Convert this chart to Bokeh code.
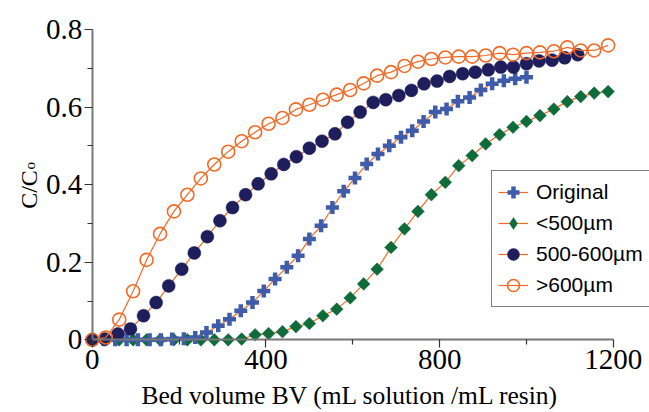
import math
from bokeh.plotting import figure
from bokeh.models import (Range1d, FixedTicker, Label, Legend, LegendItem,
                          ColumnDataSource, CDSView, IndexFilter)
from bokeh.embed import file_html
from bokeh.resources import INLINE

# ---------------- data ----------------
x_ticks = [0, 400, 800, 1200]
x_minor = [200, 600, 1000]
y_ticks = [0, 0.2, 0.4, 0.6, 0.8]
y_minor = [0.1, 0.3, 0.5, 0.7]
y_tick_labels = ["0", "0.2", "0.4", "0.6", "0.8"]

series_names = ["Original", "<500\u00b5m", "500-600\u00b5m", ">600\u00b5m"]

orig_bv = [0, 26, 53, 79, 105, 132, 158, 184, 211, 237, 263, 290, 316, 342, 369, 395,
           421, 448, 474, 500, 527, 553, 579, 605, 632, 658, 684, 711, 737, 763, 790,
           816, 842, 869, 895, 921, 948, 974, 1000]
orig_c = [0, 0, 0, 0, 0, 0, 0, 0.002, 0.003, 0.006, 0.019, 0.036, 0.053, 0.075, 0.096,
          0.126, 0.157, 0.187, 0.217, 0.260, 0.294, 0.341, 0.383, 0.417, 0.453, 0.479,
          0.500, 0.522, 0.539, 0.563, 0.587, 0.595, 0.615, 0.625, 0.644, 0.660, 0.668,
          0.673, 0.677]

lt500_bv = [0, 31, 62, 94, 125, 156, 188, 219, 250, 281, 313, 344, 375, 406, 438, 469,
            500, 531, 563, 594, 625, 656, 688, 719, 750, 781, 813, 844, 875, 906, 938,
            969, 1000, 1031, 1063, 1094, 1125, 1156, 1188]
lt500_c = [0, 0, 0, 0, 0, 0, 0, 0, 0, 0, 0, 0.002, 0.013, 0.016, 0.021, 0.034, 0.042,
           0.062, 0.079, 0.108, 0.144, 0.182, 0.238, 0.286, 0.331, 0.374, 0.406, 0.449,
           0.475, 0.505, 0.529, 0.548, 0.563, 0.578, 0.595, 0.614, 0.627, 0.636, 0.640]

mid_bv = [0, 29, 59, 88, 118, 147, 176, 206, 235, 265, 294, 323, 353, 382, 412, 441,
          470, 500, 529, 559, 588, 617, 647, 676, 706, 735, 764, 794, 823, 853, 882,
          912, 941, 970, 1000, 1029, 1059, 1088, 1118]
mid_c = [0.000, 0.002, 0.015, 0.028, 0.062, 0.096, 0.139, 0.182, 0.224, 0.266, 0.307,
         0.341, 0.374, 0.402, 0.428, 0.452, 0.472, 0.494, 0.512, 0.531, 0.561, 0.587,
         0.612, 0.619, 0.630, 0.643, 0.660, 0.667, 0.679, 0.686, 0.690, 0.696, 0.703,
         0.703, 0.712, 0.719, 0.721, 0.727, 0.735]

gt600_bv = [0, 31, 62, 94, 125, 156, 188, 219, 250, 281, 313, 344, 375, 406, 438, 469,
            500, 531, 563, 594, 625, 656, 688, 719, 750, 781, 813, 844, 875, 906, 938,
            969, 1000, 1031, 1063, 1094, 1125, 1156, 1188]
gt600_c = [0.000, 0.006, 0.052, 0.125, 0.206, 0.273, 0.331, 0.374, 0.416, 0.452, 0.485,
           0.512, 0.535, 0.557, 0.572, 0.594, 0.606, 0.619, 0.632, 0.644, 0.661, 0.681,
           0.690, 0.706, 0.717, 0.724, 0.728, 0.730, 0.730, 0.733, 0.739, 0.735, 0.739,
           0.741, 0.744, 0.754, 0.746, 0.746, 0.759]

# ---------------- styles / layout ----------------
ORANGE = "#F26A26"
BLUE = "#3E5CAA"
GREEN = "#0E6B3A"
NAVY = "#1F1E5C"
SERIF = "Liberation Serif"
SANS = "Liberation Sans"

W, H = 649, 412
X0_PX, X1_PX = 91.8, 612.8     # pixel positions of x = 0 and x = 1200
Y0_PX, Y1_PX = 339.3, 29.0     # pixel positions (from top) of y = 0 and y = 0.8
sx = (X1_PX - X0_PX) / 1200.0
sy = (Y0_PX - Y1_PX) / 0.8
x_range = Range1d(-X0_PX / sx, (W - X0_PX) / sx)
y_range = Range1d(-(H - Y0_PX) / sy, Y0_PX / sy)

p = figure(width=W, height=H, output_backend="svg", toolbar_location=None,
           x_range=x_range, y_range=y_range,
           min_border_left=0, min_border_right=0, min_border_top=0,
           min_border_bottom=0, title=None)
p.xgrid.visible = False
p.ygrid.visible = False
p.outline_line_color = None
p.background_fill_color = "white"
p.border_fill_color = "white"

for ax in (p.xaxis[0], p.yaxis[0]):
    ax.axis_line_color = "#777777"
    ax.axis_line_width = 2
    ax.major_tick_line_color = "#333333"
    ax.minor_tick_line_color = "#333333"
    ax.major_tick_line_width = 1.2
    ax.minor_tick_line_width = 1.2
    ax.major_tick_out = 8
    ax.major_tick_in = 0
    ax.minor_tick_out = 5
    ax.minor_tick_in = 0
    ax.major_label_text_font = SERIF
    ax.major_label_text_font_size = "29px"
    ax.major_label_text_color = "black"
    ax.major_label_standoff = 2
    ax.fixed_location = 0

p.xaxis.ticker = FixedTicker(ticks=x_ticks, minor_ticks=x_minor)
p.xaxis.bounds = (x_ticks[0], x_ticks[-1])
p.yaxis.ticker = FixedTicker(ticks=y_ticks, minor_ticks=y_minor)
p.yaxis.bounds = (y_ticks[0], y_ticks[-1])
p.yaxis.major_label_overrides = {t: s for t, s in zip(y_ticks, y_tick_labels)}

# ---------------- series ----------------
src_lt = ColumnDataSource(dict(x=lt500_bv, y=lt500_c))
l_lt = p.line("x", "y", source=src_lt, line_color=ORANGE, line_width=1.2)
# legend key for the rotated squares: one small diamond hidden under the last square
s_lt_key = p.scatter("x", "y", source=src_lt,
                     view=CDSView(filter=IndexFilter(indices=[len(lt500_bv) - 1])),
                     marker="diamond", size=8, fill_color=GREEN, line_color=GREEN,
                     line_width=0.5)
s_lt = p.scatter("x", "y", source=src_lt, marker="square", size=9, angle=math.pi / 4,
                 fill_color=GREEN, line_color=GREEN, line_width=0.5)
l_or = p.line(orig_bv, orig_c, line_color=ORANGE, line_width=1.2)
s_or = p.scatter(orig_bv, orig_c, marker="cross", size=13, line_color=BLUE,
                 line_width=4.5)
l_md = p.line(mid_bv, mid_c, line_color=ORANGE, line_width=1.2)
s_md = p.scatter(mid_bv, mid_c, marker="circle", size=13, fill_color=NAVY,
                 line_color=NAVY, line_width=0.5)
l_gt = p.line(gt600_bv, gt600_c, line_color=ORANGE, line_width=1.2)
s_gt = p.scatter(gt600_bv, gt600_c, marker="circle", size=13, fill_color=None,
                 line_color=ORANGE, line_width=1.6)

legend = Legend(items=[
    LegendItem(label=series_names[0], renderers=[l_or, s_or]),
    LegendItem(label=series_names[1], renderers=[l_lt, s_lt_key]),
    LegendItem(label=series_names[2], renderers=[l_md, s_md]),
    LegendItem(label=series_names[3], renderers=[l_gt, s_gt]),
], location=(491, 105))
legend.margin = 0
legend.padding = 6
legend.spacing = 1
legend.glyph_width = 30
legend.glyph_height = 30
legend.label_height = 30
legend.label_standoff = 8
legend.label_text_font = SANS
legend.label_text_font_size = "21px"
legend.label_text_color = "black"
legend.border_line_color = "black"
legend.border_line_width = 1
legend.background_fill_color = "white"
legend.background_fill_alpha = 1
p.add_layout(legend)

# ---------------- axis titles ----------------
p.add_layout(Label(x=141, y=17, x_units="screen", y_units="screen",
                   text="Bed volume BV (mL solution /mL resin)", text_font=SERIF,
                   text_font_size="25.5px", text_align="left", text_baseline="middle",
                   text_color="black"))
p.add_layout(Label(x=28, y=223, x_units="screen", y_units="screen", text="C/C",
                   angle=math.pi / 2, text_font=SERIF, text_font_size="24px",
                   text_align="center", text_baseline="alphabetic", text_color="black"))
p.add_layout(Label(x=29.5, y=243, x_units="screen", y_units="screen", text="o",
                   angle=math.pi / 2, text_font=SERIF, text_font_size="15px",
                   text_align="left", text_baseline="alphabetic", text_color="black"))

open("out.html", "w").write(file_html(p, INLINE))
